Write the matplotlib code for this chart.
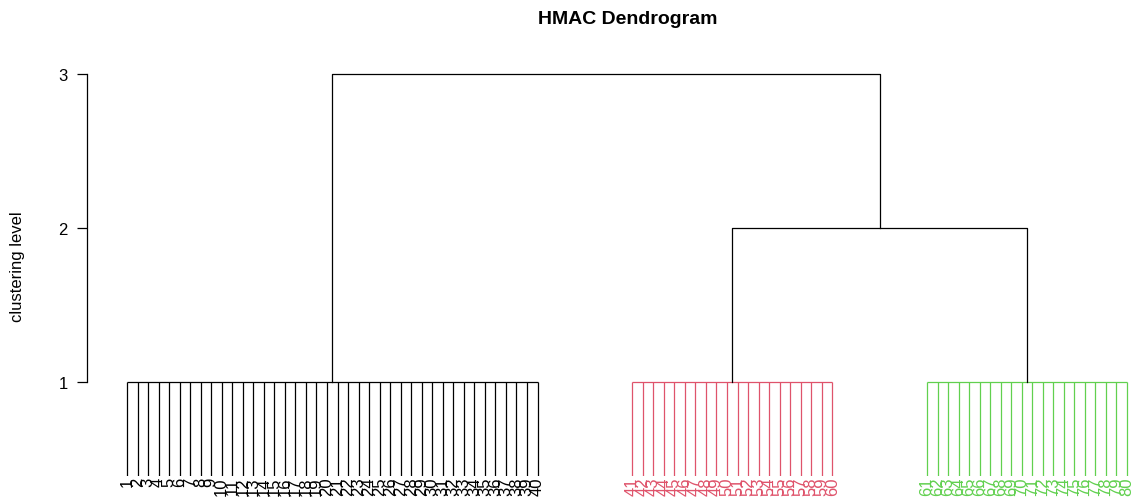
import matplotlib
matplotlib.use("Agg")
import matplotlib.pyplot as plt

plt.rcParams['font.family'] = ['Liberation Sans', 'DejaVu Sans']

# Data
groups = [list(range(1, 41)), list(range(41, 61)), list(range(61, 81))]
group_colors = ['#000000', '#DF536B', '#61D04F']
group_offsets = [0, 8, 16]          # gap (in leaf units) inserted before each group
leaf_level = 0.39                   # bottom end of leaf lines
group_level = 1                     # level where leaves of each group merge
merge_levels = [2, 3]               # (red+green) at 2, (black + rest) at 3
yticks = [1, 2, 3]
title = "HMAC Dendrogram"
ylabel = "clustering level"

W, H = 1138, 502
fig = plt.figure(figsize=(W / 100, H / 100), dpi=100)
# plot region in pixels
left_px, right_px = 87, 1168
top_px, bottom_px = 40, 477
ax = fig.add_axes([left_px / W, 1 - bottom_px / H, (right_px - left_px) / W, (bottom_px - top_px) / H])

sp = 10.526
x0 = 1 - (127 - left_px) / sp
x1 = 1 + (right_px - 127) / sp
ax.set_xlim(x0, x1)
yb = 1 - (bottom_px - 383) / 154
yt = 1 + (383 - top_px) / 154
ax.set_ylim(yb, yt)

lw = 0.9
centers = []
for g, col, off in zip(groups, group_colors, group_offsets):
    xs = [n + off for n in g]
    for x, n in zip(xs, g):
        ax.plot([x, x], [leaf_level, group_level], color=col, lw=lw, solid_capstyle='butt')
        ax.text(x, leaf_level - 0.005, str(n), rotation=90, ha='center', va='top',
                color=col, fontsize=12, clip_on=False)
    ax.plot([xs[0], xs[-1]], [group_level, group_level], color=col, lw=lw, solid_capstyle='butt')
    centers.append((xs[0] + xs[-1]) / 2)

c1, c2 = centers[1], centers[2]
ax.plot([c1, c1, c2, c2], [group_level, merge_levels[0], merge_levels[0], group_level], color='black', lw=lw)
c12 = (c1 + c2) / 2
c0 = centers[0]
ax.plot([c0, c0, c12, c12], [group_level, merge_levels[1], merge_levels[1], merge_levels[0]], color='black', lw=lw)

for s in ['top', 'right', 'bottom']:
    ax.spines[s].set_visible(False)
ax.spines['left'].set_bounds(1, 3)
ax.spines['left'].set_linewidth(0.9)
ax.set_xticks([])
ax.set_yticks(yticks)
ax.set_yticklabels([str(t) for t in yticks], fontsize=12)
ax.tick_params(axis='y', length=7, width=0.9, pad=7)
ax.patch.set_visible(False)

fig.text(18 / W, 1 - 267 / H, ylabel, rotation=90, ha='center', va='center', fontsize=12)
fig.text(628 / W, 1 - 19 / H, title, ha='center', va='center', fontsize=14, fontweight='bold')

fig.savefig("out.png", dpi=100)
